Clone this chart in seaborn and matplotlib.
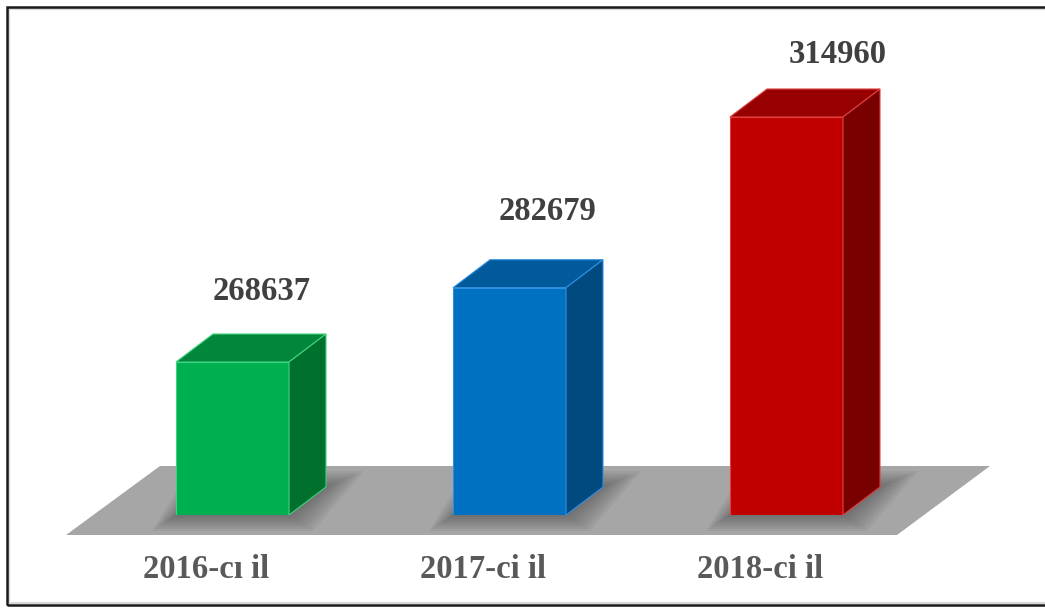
import pandas as pd
import seaborn as sns
import matplotlib.pyplot as plt
from matplotlib.patches import Polygon, Rectangle

years = ["2016-cı il", "2017-ci il", "2018-ci il"]
values = [268637, 282679, 314960]
front_colors = ["#00B050", "#0070C0", "#C00000"]
top_colors = ["#00873C", "#005A9C", "#960000"]
side_colors = ["#00702F", "#004A80", "#780000"]
edge_colors = ["#3fd37f", "#2f8fe0", "#e04040"]

df = pd.DataFrame({"year": years, "value": values})

W, H = 1045, 608
fig = plt.figure(figsize=(W / 100, H / 100), dpi=100)
# axes bottom sits on the bar baseline (pixel row 515), spacing 277 px per bar
px_per_cat = 277.0
x0_px = 232.5
ax = fig.add_axes([0, (H - 515) / H, 1, (515 - 40) / H])

# value scale: ~189 units per pixel, baseline ~239700
units_per_px = 189.07
base = 239709

def px2x(px):
    return (px - x0_px) / px_per_cat

def py2y(py):
    return base + (515 - py) * units_per_px

bw = 113 / px_per_cat
dx = 37 / px_per_cat
dy = 28 * units_per_px

sns.barplot(data=df, x="year", y="value", hue="year", palette=front_colors,
            legend=False, width=bw, saturation=1, ax=ax, zorder=2)
for p, ec in zip(ax.patches, edge_colors):
    p.set_edgecolor(ec)
    p.set_linewidth(0.8)

ax.set_ylim(base, base + (515 - 40) * units_per_px)
ax.set_xlim(-x0_px / px_per_cat, (W - x0_px) / px_per_cat)
ax.axis("off")

# grey floor
floor = Polygon([(px2x(66), py2y(535)), (px2x(897), py2y(535)),
                 (px2x(990), py2y(466)), (px2x(160), py2y(466))],
                closed=True, fc="#A6A6A6", ec="none", zorder=0.5, clip_on=False)
ax.add_patch(floor)

# soft shadows around bar feet
for i in range(len(values)):
    for k in range(8, 0, -1):
        gx = k * 3.0 / px_per_cat
        gy = k * 2.0 * units_per_px
        shp = Polygon([(i - bw / 2 - gx, base - gy), (i + bw / 2 + gx, base - gy),
                       (i + bw / 2 + dx + gx * 1.6, base + dy + gy),
                       (i - bw / 2 + dx - gx, base + dy + gy)],
                      closed=True, fc="#3a3a3a", ec="none", alpha=0.07,
                      zorder=0.6, clip_on=False)
        ax.add_patch(shp)

for i, v in enumerate(values):
    top = Polygon([(i - bw / 2, v), (i + bw / 2, v), (i + bw / 2 + dx, v + dy),
                   (i - bw / 2 + dx, v + dy)], closed=True,
                  fc=top_colors[i], ec=edge_colors[i], lw=0.8, zorder=2)
    side = Polygon([(i + bw / 2, base), (i + bw / 2, v), (i + bw / 2 + dx, v + dy),
                    (i + bw / 2 + dx, base + dy)], closed=True,
                   fc=side_colors[i], ec=edge_colors[i], lw=0.8, zorder=2)
    ax.add_patch(top)
    ax.add_patch(side)

# value labels above the bars
label_off = [(29, 70), (38, 76), (51, 62)]
for i, v in enumerate(values):
    ax.annotate(str(v), (i, v), xytext=label_off[i], textcoords="offset pixels",
                ha="center", va="center", fontsize=23.5, fontweight="bold",
                family="Liberation Serif", color="#404040", annotation_clip=False)

# category labels under the floor
for i, name in enumerate(years):
    ax.annotate(name, (i, base), xytext=(-26, -55), textcoords="offset pixels",
                ha="center", va="center", fontsize=23.5, fontweight="bold",
                family="Liberation Serif", color="#595959", annotation_clip=False)

# outer frame
fig.add_artist(Rectangle((9 / W, 5 / H), 1.2, (H - 14) / H, transform=fig.transFigure,
                         fill=False, ec="#D9D9D9", lw=1.5))
fig.add_artist(Rectangle((7 / W, 3 / H), 1.2, (H - 10) / H, transform=fig.transFigure,
                         fill=False, ec="#1a1a1a", lw=1.8))

fig.savefig("out.png", dpi=100)
